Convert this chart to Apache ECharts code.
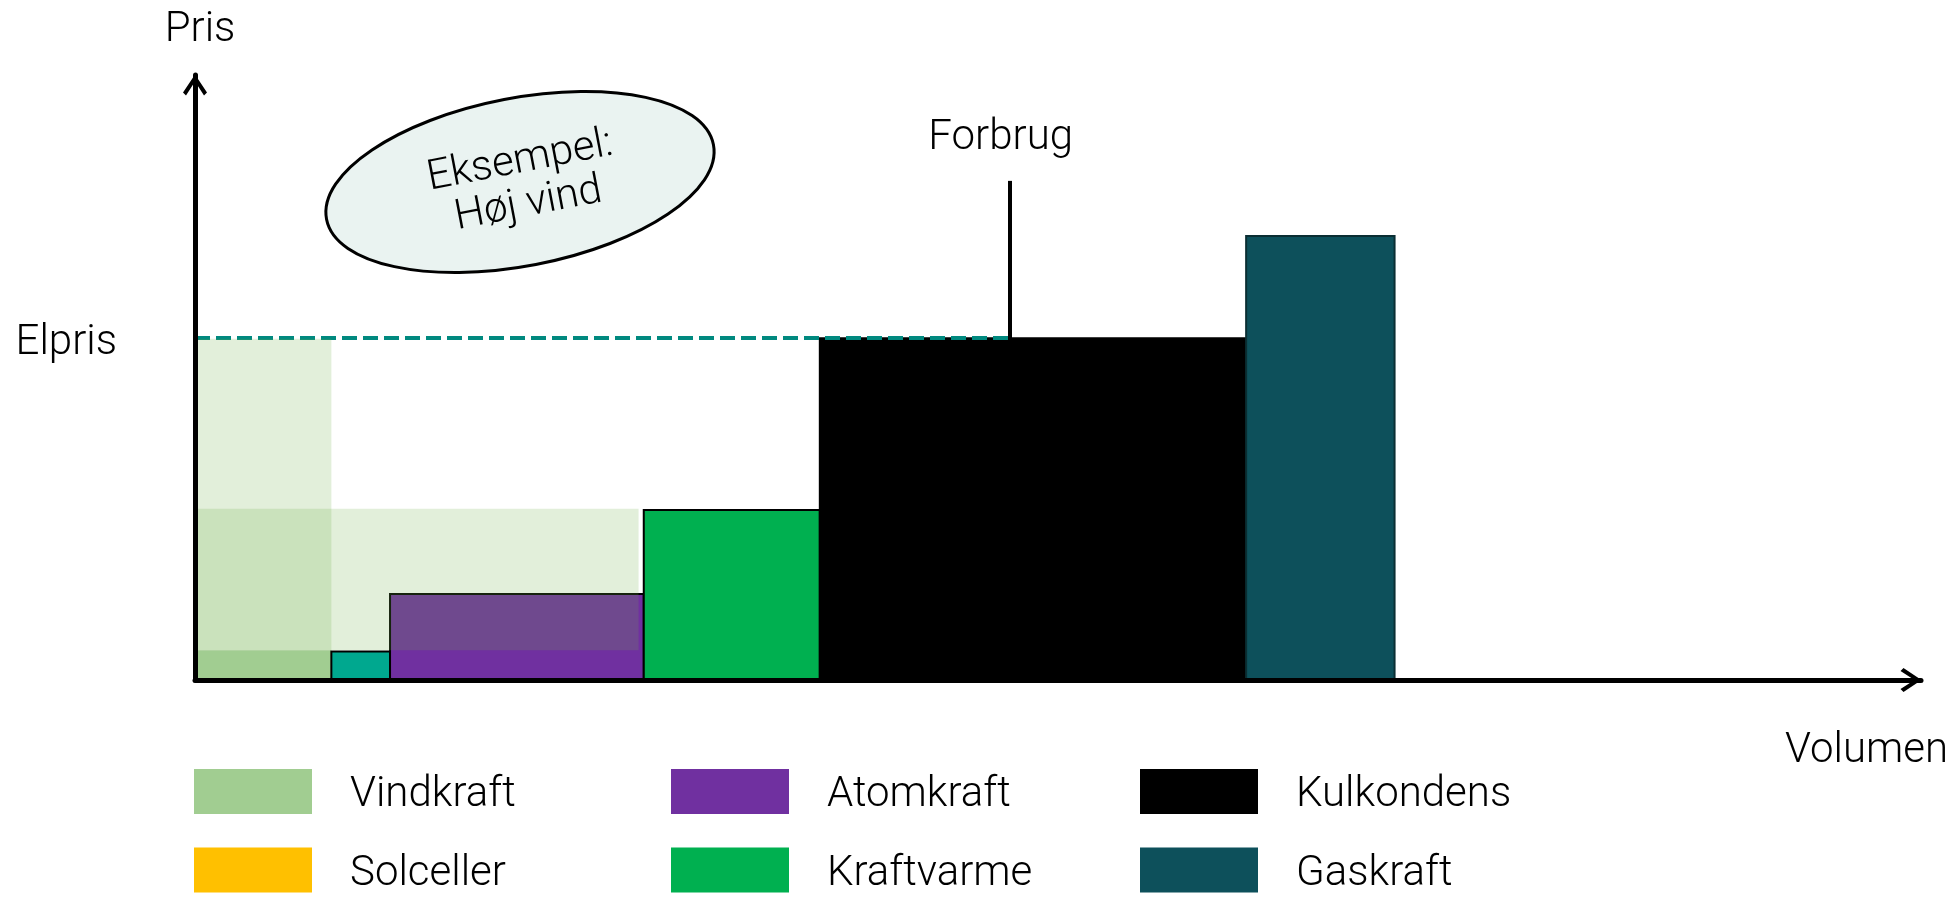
<!DOCTYPE html>
<html>
<head>
<meta charset="utf-8">
<script src="https://cdn.jsdelivr.net/npm/echarts@6/dist/echarts.min.js"></script>
<style>
  html, body { margin: 0; padding: 0; background: #ffffff; }
  #chart { width: 1960px; height: 898px; }
</style>
</head>
<body>
<div id="chart"></div>
<script>
// Udbudskurve (merit order). Hver blok: [volumen fra, volumen til, pris fra, pris til]
const vindkraft = [[0, 7.9, 0, 4.9]];
const vindkraftHoejVind = [[0, 7.9, 4.9, 56.4], [0, 25.7, 4.9, 28.3]];
const solceller = [];
const oevrigeBlok = [[7.9, 11.3, 0, 4.7]];
const atomkraft = [[11.3, 26.0, 0, 14.2]];
const kraftvarme = [[26.0, 36.2, 0, 28.1]];
const kulkondens = [[36.2, 60.9, 0, 56.5]];
const gaskraft = [[60.9, 69.5, 0, 73.4]];

// Markedspris og forbrug
const elpris = 56.5;
const forbrug = 47.2;
const forbrugTop = 82.5;

// Tekster
const legendKolonner = [
  ['Vindkraft', 'Solceller'],
  ['Atomkraft', 'Kraftvarme'],
  ['Kulkondens', 'Gaskraft']
];
const boblerTekst = 'Eksempel:\nHøj vind';

const FONT = 'Roboto';
const FW = 300;
const FS = 42;

const chart = echarts.init(document.getElementById('chart'), null, { renderer: 'canvas' });

function renderBlock(params, api) {
  const topLeft = api.coord([api.value(0), api.value(3)]);
  const bottomRight = api.coord([api.value(1), api.value(2)]);
  return {
    type: 'rect',
    shape: {
      x: topLeft[0],
      y: topLeft[1],
      width: bottomRight[0] - topLeft[0],
      height: bottomRight[1] - topLeft[1]
    },
    style: api.style()
  };
}

function blockSeries(name, data, itemStyle, extra) {
  return Object.assign({
    type: 'custom',
    name: name,
    data: data,
    renderItem: renderBlock,
    encode: { x: [0, 1], y: [2, 3] },
    itemStyle: itemStyle,
    silent: true,
    z: 2
  }, extra || {});
}

// Chevron-pil (peger opad, roteres af aksen)
const chevron = 'path://M12,0 L24,18 L21,21 L12,7 L3,21 L0,18 Z';

const labelText = { fontFamily: FONT, fontWeight: FW, fontSize: FS, color: '#000000' };

const legendBase = {
  orient: 'vertical',
  icon: 'rect',
  itemWidth: 118,
  itemHeight: 45,
  itemGap: 28.5,
  top: 766.5,
  height: 200,
  padding: 0,
  selectedMode: false,
  itemStyle: { borderWidth: 0 },
  formatter: '{t|{name}}',
  textStyle: Object.assign({}, labelText, {
    padding: [0, 0, 0, 33],
    rich: { t: Object.assign({}, labelText, { lineHeight: 34, padding: [8, 0, 0, 0] }) }
  })
};
const legendLeft = [194, 671, 1140];

const option = {
  animation: false,
  backgroundColor: '#ffffff',
  grid: { left: 195, right: 39, top: 75, bottom: 218, containLabel: false },
  xAxis: {
    type: 'value',
    min: 0,
    max: 100,
    z: 5,
    name: 'Volumen',
    nameLocation: 'end',
    nameGap: 27,
    nameTextStyle: Object.assign({}, labelText, { align: 'right', verticalAlign: 'top', padding: [50, 0, 0, 0] }),
    axisLine: {
      show: true,
      symbol: ['none', chevron],
      symbolSize: [24, 21],
      symbolOffset: [0, -10],
      lineStyle: { color: '#000000', width: 5 }
    },
    axisTick: { show: false },
    axisLabel: { show: false },
    splitLine: { show: false }
  },
  yAxis: {
    type: 'value',
    min: 0,
    max: 100,
    z: 5,
    name: 'Pris',
    nameLocation: 'end',
    nameGap: 24,
    nameTextStyle: Object.assign({}, labelText, { align: 'center', padding: [0, 0, 0, 10] }),
    axisLine: {
      show: true,
      symbol: ['none', chevron],
      symbolSize: [24, 21],
      symbolOffset: [0, -10],
      lineStyle: { color: '#000000', width: 5 }
    },
    axisTick: { show: false },
    axisLabel: { show: false },
    splitLine: { show: false }
  },
  legend: legendKolonner.map((names, i) => Object.assign({}, legendBase, { left: legendLeft[i], data: names })),
  series: [
    blockSeries('Vindkraft', vindkraft, { color: '#A1CD91' }),
    blockSeries('Solceller', solceller, { color: '#FFC000' }),
    blockSeries('Øvrige', oevrigeBlok, { color: '#00A88F', borderColor: '#000000', borderWidth: 2 }),
    blockSeries('Atomkraft', atomkraft, { color: '#7030A0', borderColor: '#000000', borderWidth: 2 }),
    blockSeries('Kraftvarme', kraftvarme, { color: '#00B050', borderColor: '#000000', borderWidth: 2 }),
    blockSeries('Kulkondens', kulkondens, { color: '#000000', borderColor: '#000000', borderWidth: 2 }, {
      markLine: {
        silent: true,
        symbol: ['none', 'none'],
        z: 3,
        data: [
          [
            {
              coord: [0, elpris],
              lineStyle: { color: '#00897F', width: 4, type: [15, 6] },
              label: Object.assign({ show: true, position: 'start', distance: 78, formatter: 'Elpris', verticalAlign: 'top', lineHeight: 10 }, labelText)
            },
            { coord: [forbrug, elpris] }
          ],
          [
            {
              coord: [forbrug, elpris],
              lineStyle: { color: '#000000', width: 4, type: 'solid' },
              label: Object.assign({ show: true, position: 'end', distance: 21, formatter: 'Forbrug', padding: [0, 18, 0, 0] }, labelText)
            },
            { coord: [forbrug, forbrugTop] }
          ]
        ]
      }
    }),
    blockSeries('Gaskraft', gaskraft, { color: '#0D505B', borderColor: '#0A2E33', borderWidth: 2 }),
    blockSeries('Vindkraft, høj vind', vindkraftHoejVind, { color: '#70AD47', opacity: 0.2 }, { z: 4 })
  ],
  graphic: [
    {
      type: 'group',
      x: 520,
      y: 182,
      rotation: 0.19,
      silent: true,
      children: [
        {
          type: 'ellipse',
          shape: { cx: 0, cy: 0, rx: 197, ry: 84 },
          style: { fill: '#EAF3F1', stroke: '#000000', lineWidth: 3 }
        },
        {
          type: 'text',
          x: 4,
          y: 2,
          style: {
            text: boblerTekst,
            fontFamily: FONT,
            fontWeight: FW,
            fontSize: FS,
            lineHeight: 44,
            fill: '#000000',
            align: 'center',
            verticalAlign: 'middle',
            textAlign: 'center',
            textVerticalAlign: 'middle'
          }
        }
      ]
    }
  ]
};

chart.setOption(option);
</script>
</body>
</html>
